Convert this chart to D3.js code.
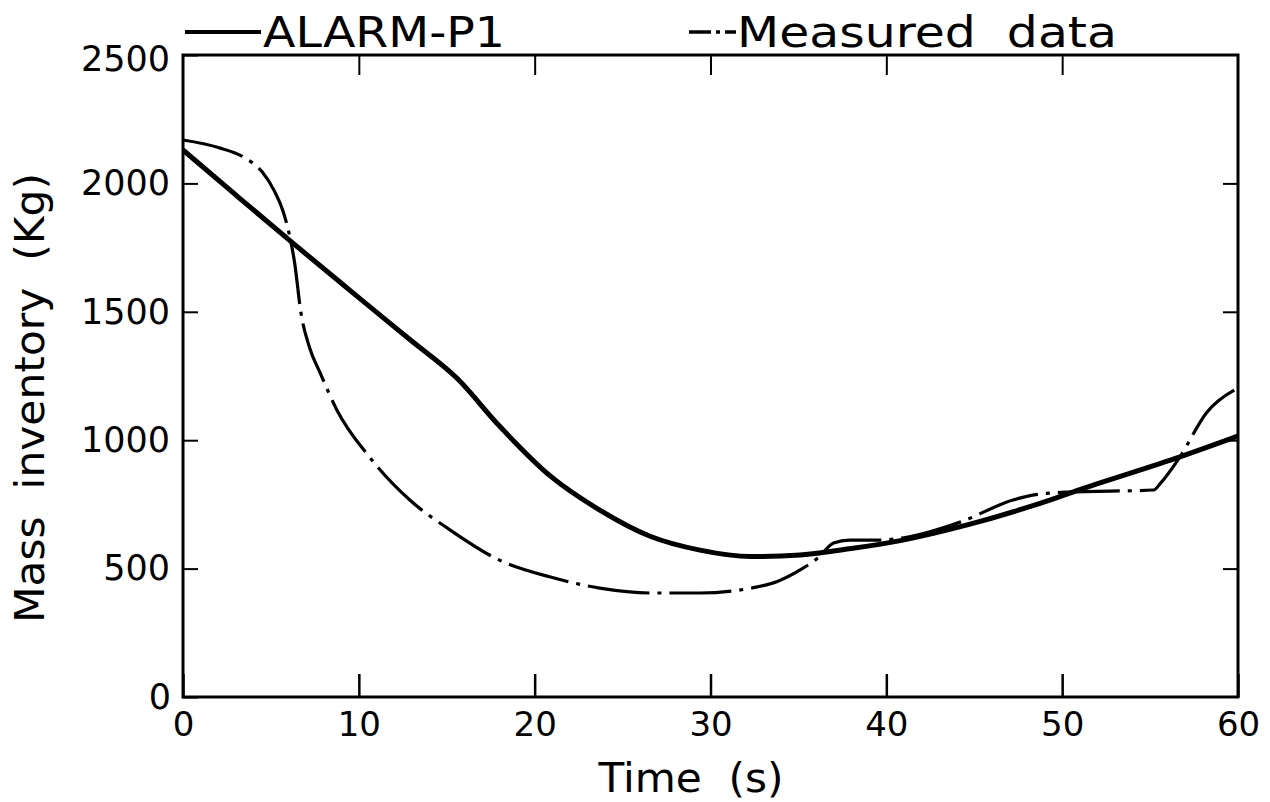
<!DOCTYPE html>
<html>
<head>
<meta charset="utf-8">
<script src="https://cdn.jsdelivr.net/npm/d3@7/dist/d3.min.js"></script>
<style>
  body { margin: 0; background: #fff; }
  text { font-family: "DejaVu Sans", sans-serif; fill: #000; }
</style>
</head>
<body>
<div id="chart"></div>
<script>
// ALARM-P1 calculation (solid)
const alarmTime = [0, 3, 6.2, 9.7, 12.9, 15.6, 18.0, 20.9, 23.7, 26.6, 29.4, 32.3, 35.1, 38, 40.8, 44.6, 49.3, 51.2, 56.7, 60];
const alarmMass = [2130, 1955, 1770, 1572, 1392, 1240, 1055, 860, 728, 625, 572, 547, 553, 578, 609, 670, 767, 812, 935, 1016];

// measured data (dash-dot)
const measTime = [0, 2.0, 3.5, 4.5, 5.2, 5.7, 6.05, 6.35, 6.7, 7.2, 7.8, 8.75, 10.6, 12.9, 15.2, 18.0, 20.9, 23.7, 26.6, 29.4, 32.3, 33.8, 35.1, 36.1, 37.0, 37.9, 39.5, 41, 44.2, 47.2, 48.4, 50.3, 55.2, 55.6, 56.7, 58.2, 60];
const measMass = [2169, 2140, 2100, 2045, 1970, 1890, 1800, 1690, 1500, 1360, 1262, 1118, 935, 767, 650, 533, 467, 424, 405, 405, 424, 450, 495, 541, 600, 611, 611, 620, 681, 767, 787, 798, 806, 833, 935, 1106, 1203];

const xTicks = [0, 10, 20, 30, 40, 50, 60];
const yTicks = [0, 500, 1000, 1500, 2000, 2500];

const width = 1270, height = 802;
const margin = { top: 55, right: 32, bottom: 105, left: 183 };

const svg = d3.select("#chart").append("svg")
  .attr("width", width)
  .attr("height", height);

const x = d3.scaleLinear().domain([0, 60]).range([margin.left, width - margin.right]);
const y = d3.scaleLinear().domain([0, 2500]).range([height - margin.bottom, margin.top]);

// frame
svg.append("rect")
  .attr("x", x(0)).attr("y", y(2500))
  .attr("width", x(60) - x(0)).attr("height", y(0) - y(2500))
  .attr("fill", "none").attr("stroke", "#000").attr("stroke-width", 3);

// bottom axis, ticks pointing in
svg.append("g")
  .attr("transform", `translate(0, ${y(0)})`)
  .call(d3.axisBottom(x).tickValues(xTicks).tickSize(-23).tickPadding(32).tickFormat(d3.format("d")))
  .call(g => g.select(".domain").remove())
  .call(g => g.selectAll("line").attr("stroke-width", 2.5))
  .call(g => g.selectAll("text").attr("font-size", 34).attr("dy", "0.2em"));

// left axis
svg.append("g")
  .attr("transform", `translate(${x(0)}, 0)`)
  .call(d3.axisLeft(y).tickValues(yTicks).tickSize(-15).tickPadding(13).tickFormat(d3.format("d")))
  .call(g => g.select(".domain").remove())
  .call(g => g.selectAll("line").attr("stroke-width", 2))
  .call(g => g.selectAll("text").attr("font-size", 35))
  .call(g => g.selectAll(".tick").filter(d => d === 2500).select("text").attr("dy", "0.45em"))
  .call(g => g.selectAll(".tick").filter(d => d === 0).select("text").attr("x", -12));

// top and right inner ticks (no labels)
svg.append("g")
  .attr("transform", `translate(0, ${y(2500)})`)
  .call(d3.axisTop(x).tickValues(xTicks.slice(1, -1)).tickSize(-20).tickFormat(""))
  .call(g => g.select(".domain").remove())
  .call(g => g.selectAll("line").attr("stroke-width", 2));

svg.append("g")
  .attr("transform", `translate(${x(60)}, 0)`)
  .call(d3.axisRight(y).tickValues(yTicks.slice(1, -1)).tickSize(-15).tickFormat(""))
  .call(g => g.select(".domain").remove())
  .call(g => g.selectAll("line").attr("stroke-width", 2));

// series
const line = d3.line()
  .x(d => x(d[0]))
  .y(d => y(d[1]))
  .curve(d3.curveMonotoneX);

const alarm = alarmTime.map((t, i) => [t, alarmMass[i]]);
const meas = measTime.map((t, i) => [t, measMass[i]]);

svg.append("path")
  .datum(meas)
  .attr("d", line)
  .attr("fill", "none")
  .attr("stroke", "#000")
  .attr("stroke-width", 3.2)
  .attr("stroke-dasharray", "62,8,4,8");

svg.append("path")
  .datum(alarm)
  .attr("d", line)
  .attr("fill", "none")
  .attr("stroke", "#000")
  .attr("stroke-width", 5);

// legend
svg.append("line")
  .attr("x1", 185).attr("x2", 261).attr("y1", 32).attr("y2", 32)
  .attr("stroke", "#000").attr("stroke-width", 4);
svg.append("text")
  .attr("x", 263).attr("y", 47)
  .attr("font-size", 43)
  .attr("textLength", 242).attr("lengthAdjust", "spacingAndGlyphs")
  .text("ALARM-P1");

svg.append("line")
  .attr("x1", 689).attr("x2", 736).attr("y1", 32).attr("y2", 32)
  .attr("stroke", "#000").attr("stroke-width", 3.5)
  .attr("stroke-dasharray", "22,5,4,5,11");
svg.append("text")
  .attr("x", 737).attr("y", 47)
  .attr("font-size", 43)
  .attr("textLength", 380).attr("lengthAdjust", "spacingAndGlyphs")
  .attr("xml:space", "preserve")
  .text("Measured  data");

// axis titles
svg.append("text")
  .attr("x", 691).attr("y", 792)
  .attr("text-anchor", "middle")
  .attr("font-size", 40)
  .attr("textLength", 185).attr("lengthAdjust", "spacingAndGlyphs")
  .attr("xml:space", "preserve")
  .text("Time  (s)");

svg.append("text")
  .attr("transform", "translate(44, 398) rotate(-90)")
  .attr("text-anchor", "middle")
  .attr("font-size", 41)
  .attr("textLength", 450).attr("lengthAdjust", "spacingAndGlyphs")
  .attr("xml:space", "preserve")
  .text("Mass  inventory  (Kg)");
</script>
</body>
</html>
